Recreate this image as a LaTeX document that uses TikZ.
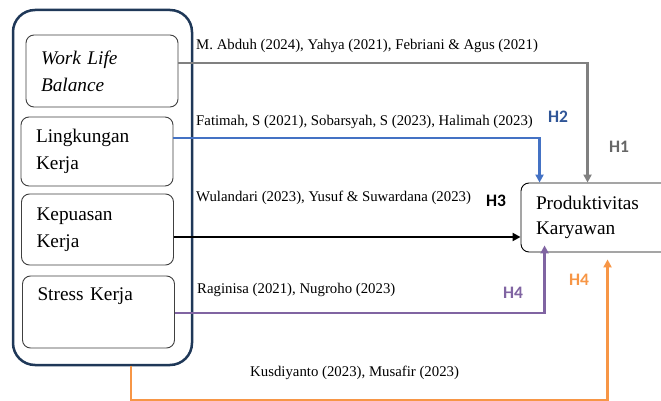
\documentclass[tikz,border=0pt]{standalone}
\usepackage{fontspec}
\setmainfont{Liberation Serif}
\newfontfamily\hfont{Carlito}
\usetikzlibrary{arrows.meta}

\definecolor{navy}{RGB}{31,56,88}
\definecolor{hgray}{RGB}{128,128,128}
\definecolor{hblue}{RGB}{68,114,196}
\definecolor{hbluedark}{RGB}{47,85,151}
\definecolor{hpurple}{RGB}{128,100,162}
\definecolor{horange}{RGB}{247,150,70}

\tikzset{
	var/.style={draw=black!75,line width=0.9pt,rounded corners=8pt,minimum height=70pt,
		text width=122pt,inner xsep=15pt,align=left,
		font=\fontsize{19.3}{27}\selectfont},
	cite/.style={anchor=west,inner sep=0pt,font=\rmfamily\fontsize{14.8}{17}\selectfont},
	hyp/.style={inner sep=0pt,font=\hfont\bfseries\fontsize{17.5}{19}\selectfont},
	link/.style={line width=2.4pt,-{Triangle[length=8pt,width=8pt]}}
}

\begin{document}
\begin{tikzpicture}[x=1pt,y=-1pt]
	\useasboundingbox[fill=white] (0,0) rectangle (661,401);
	\node[draw=navy,line width=2.5pt,rounded corners=22pt,minimum width=179pt,minimum height=355pt] (grp) at (102.5,187.5) {};
	\node[var,minimum height=72pt] (wlb) at (102,71) {\textit{Work Life}\\\textit{Balance}};
	\node[var,minimum height=69pt] (lk) at (97,151.5) {Lingkungan\\Kerja};
	\node[var,minimum height=71pt] (kp) at (97.5,229.5) {Kepuasan\\Kerja};
	\node[var,minimum height=72pt] (sk) at (98.5,312) {Stress Kerja\\\strut};
	\node[draw,line width=0.9pt,rounded corners=8pt,minimum width=200pt,minimum height=69pt,
		text width=170pt,inner xsep=15pt,align=left,font=\fontsize{19.3}{25}\selectfont]
		(prod) at (621,217.5) {Produktivitas\\Karyawan};

	\coordinate (a1) at ([yshift=8pt]wlb.east);
	\coordinate (a2) at ([yshift=13.5pt]lk.east);
	\coordinate (a3) at ([yshift=-7.5pt]kp.east);
	\coordinate (a4) at ([yshift=-1pt]sk.east);
	\coordinate (a5) at ([xshift=28.5pt]grp.south);
	\coordinate (p1) at ([xshift=67pt]prod.north west);
	\coordinate (p2) at ([xshift=19pt]prod.north west);
	\coordinate (p4) at ([xshift=24pt,yshift=7pt]prod.south west);
	\coordinate (p5) at ([xshift=87pt,yshift=-7pt]prod.south west);

	\draw[link,hgray] (a1) -| (p1);
	\draw[link,hblue] (a2) -| (p2);
	\draw[link,black] (a3) -- (a3 -| prod.west);
	\draw[link,hpurple] (a4) -| (p4);
	\draw[link,horange] (a5) -- ++(0,34) -| (p5);

	\node[cite] (c1) at (196,46) {M. Abduh (2024), Yahya (2021), Febriani \& Agus (2021)};
	\node[cite] (c2) at (196,122) {Fatimah, S (2021), Sobarsyah, S (2023), Halimah (2023)};
	\node[cite] (c3) at (196,198) {Wulandari (2023), Yusuf \& Suwardana (2023)};
	\node[cite] (c4) at (197,290) {Raginisa (2021), Nugroho (2023)};
	\node[cite] (c5) at (250,373) {Kusdiyanto (2023), Musafir (2023)};

	\node[hyp,text=black!60] (h1) at (619,147) {H1};
	\node[hyp,text=hbluedark] (h2) at (558,117) {H2};
	\node[hyp,text=black] (h3) at (496,201) {H3};
	\node[hyp,text=hpurple] (h4) at (513,293) {H4};
	\node[hyp,text=horange] (h5) at (579,280) {H4};
\end{tikzpicture}
\end{document}
